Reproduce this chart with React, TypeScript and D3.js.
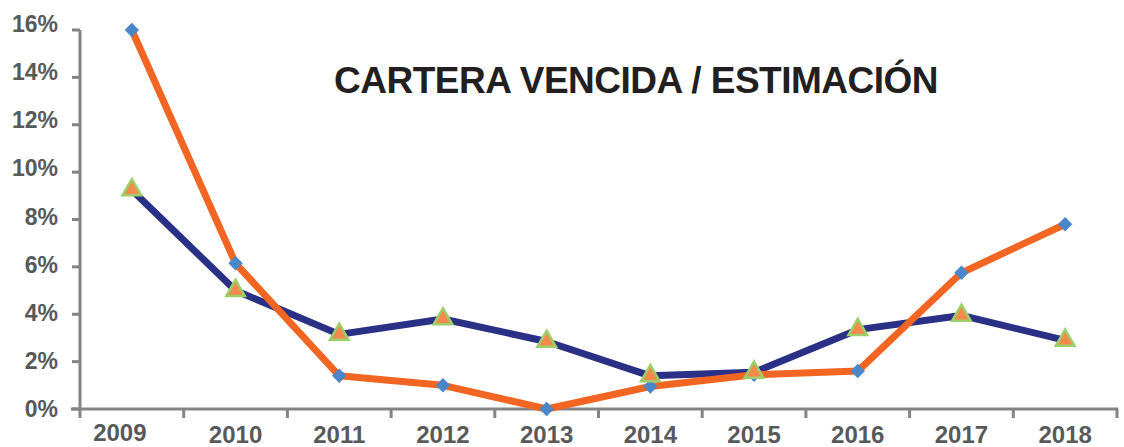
import React from 'react';
import * as d3 from 'd3';

const years = ['2009', '2010', '2011', '2012', '2013', '2014', '2015', '2016', '2017', '2018'];
const carteraVencida = [9.25, 5.0, 3.15, 3.8, 2.85, 1.4, 1.55, 3.35, 3.95, 2.9];
const estimacion = [16.0, 6.15, 1.4, 1.0, 0.0, 0.95, 1.45, 1.6, 5.75, 7.8];
const yTicks = [0, 2, 4, 6, 8, 10, 12, 14, 16];

const title = 'CARTERA VENCIDA / ESTIMACIÓN';

export default function App() {
  const width = 1124;
  const height = 447;
  const margin = { top: 30, right: 7, bottom: 38, left: 80 };

  const x = d3
    .scaleBand()
    .domain(years)
    .range([margin.left, width - margin.right]);
  const y = d3
    .scaleLinear()
    .domain([0, 16])
    .range([height - margin.bottom, margin.top]);

  // tick labels sit on a slightly wider spacing than the ticks themselves
  const yLabel = d3
    .scaleLinear()
    .domain([0, 16])
    .range([height - margin.bottom + 8, margin.top + 2]);

  const cx = (d: string) => (x(d) as number) + x.bandwidth() / 2;

  const line = d3
    .line<number>()
    .x((_, i) => cx(years[i]))
    .y((d) => y(d));

  const textColor = '#58595b';
  const axisColor = '#848484';
  const font = '"Liberation Sans", Arial, sans-serif';
  const y0 = y(0);

  const diamond = d3.symbol(d3.symbolSquare, 105)();
  const triangle = d3.symbol(d3.symbolTriangle, 150)();

  return (
    <svg
      width={width}
      height={height}
      style={{ position: 'absolute', left: 0, top: 0, background: '#fff' }}
      fontFamily={font}
    >
      {/* axes */}
      <line x1={margin.left} x2={margin.left} y1={y(16)} y2={y0 + 9} stroke={axisColor} strokeWidth={3} />
      <line x1={margin.left - 9} x2={width - margin.right + 1} y1={y0} y2={y0} stroke={axisColor} strokeWidth={3} />
      {yTicks.map((t) => (
        <g key={t}>
          <line x1={margin.left - 8} x2={margin.left} y1={y(t)} y2={y(t)} stroke={axisColor} strokeWidth={3} />
          <text x={58} y={yLabel(t)} textAnchor="end" fontSize={23} fontWeight="bold" fill={textColor}>
            {t}%
          </text>
        </g>
      ))}
      {years.map((yr, i) => (
        <g key={yr}>
          <line
            x1={(x(yr) as number) + x.bandwidth()}
            x2={(x(yr) as number) + x.bandwidth()}
            y1={y0}
            y2={y0 + 9}
            stroke={axisColor}
            strokeWidth={3}
          />
          <text
            x={cx(yr) - (i === 0 ? 12 : 0)}
            y={i === 0 ? 441 : 443}
            textAnchor="middle"
            fontSize={24}
            fontWeight="bold"
            fill={textColor}
          >
            {yr}
          </text>
        </g>
      ))}

      {/* lines */}
      <path d={line(carteraVencida) as string} fill="none" stroke="#2b3087" strokeWidth={7} strokeLinejoin="round" />
      <path d={line(estimacion) as string} fill="none" stroke="#f26522" strokeWidth={7} strokeLinejoin="round" />

      {/* markers */}
      {estimacion.map((v, i) => (
        <path
          key={'d' + i}
          d={diamond as string}
          transform={`translate(${cx(years[i])},${y(v)}) rotate(45)`}
          fill="#4a86c8"
        />
      ))}
      {carteraVencida.map((v, i) => (
        <path
          key={'t' + i}
          d={triangle as string}
          transform={`translate(${cx(years[i])},${y(v)})`}
          fill="#f58a4c"
          stroke="#9ccf6a"
          strokeWidth={2.5}
        />
      ))}

      <text
        x={636}
        y={93}
        textAnchor="middle"
        fontSize={37}
        fontWeight="bold"
        letterSpacing={-0.5}
        fill="#231f20"
      >
        {title}
      </text>
    </svg>
  );
}
